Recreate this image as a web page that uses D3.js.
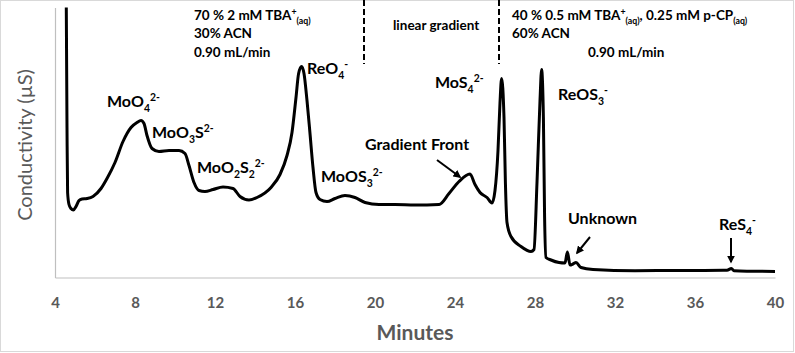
<!DOCTYPE html>
<html>
<head>
<meta charset="utf-8">
<script src="https://cdn.jsdelivr.net/npm/d3@7"></script>
<style>
  body { margin: 0; background: #fff; }
  text { font-family: Lato, "Open Sans", sans-serif; font-weight: bold; }
</style>
</head>
<body>
<div id="chart"></div>
<script>
// chromatogram trace
const minutes = [4.55, 4.60, 4.63, 4.70, 4.80, 4.92, 5.05, 5.20, 5.35, 5.60, 5.90, 6.30, 6.60, 7.00, 7.40, 7.80, 8.10, 8.30, 8.45, 8.60,
  8.85, 9.20, 9.70, 10.20, 10.50, 10.70, 10.95, 11.20, 11.50, 11.90, 12.40, 12.90, 13.25, 13.70, 14.10, 14.80, 15.25, 15.60, 15.85, 16.05,
  16.18, 16.33, 16.45, 16.60, 16.75, 16.90, 17.05, 17.25, 17.60, 18.00, 18.50, 19.00, 19.50, 20.20, 21.00, 22.00, 23.20, 23.70, 24.20, 24.75,
  25.00, 25.25, 25.60, 25.85, 26.00, 26.15, 26.25, 26.33, 26.45, 26.52, 26.60, 26.80, 27.30, 27.80, 27.95, 28.10, 28.25, 28.33, 28.42, 28.48,
  28.55, 28.80, 29.20, 29.50, 29.62, 29.75, 29.90, 30.05, 30.30, 30.90, 33.00, 35.00, 37.60, 37.82, 37.95, 40.00];
const conductivity = [32, 15, 8.5, 7.3, 6.9, 6.75, 7.1, 7.7, 7.85, 7.9, 8.1, 8.9, 9.9, 11.5, 13.6, 15.0, 15.5, 15.7, 15.4, 14.2,
  12.9, 12.6, 12.7, 12.7, 12.4, 11.2, 9.5, 8.7, 8.6, 8.8, 9.05, 8.9, 8.1, 7.75, 8.0, 9.0, 10.3, 12.2, 14.5, 18.0,
  20.4, 21.1, 20.4, 17.7, 14.4, 11.0, 8.5, 7.8, 7.6, 7.9, 8.2, 8.0, 7.5, 7.3, 7.3, 7.25, 7.3, 8.4, 9.6, 10.35,
  9.3, 8.5, 8.0, 7.45, 8.7, 12.7, 17.5, 19.9, 16.0, 9.5, 5.5, 4.1, 3.1, 2.6, 2.8, 9.5, 17.7, 20.8, 16.0, 6.0,
  2.0, 1.75, 1.5, 1.45, 2.55, 1.25, 1.35, 1.5, 1.0, 0.8, 0.68, 0.7, 0.72, 0.9, 0.68, 0.6];

const xTicks = [4, 8, 12, 16, 20, 24, 28, 32, 36, 40];
const peakNames = ["MoO_{4}^{2-}", "MoO_{3}S^{2-}", "MoO_{2}S_{2}^{2-}", "ReO_{4}^{-}", "MoOS_{3}^{2-}",
  "Gradient Front", "MoS_{4}^{2-}", "ReOS_{3}^{-}", "Unknown", "ReS_{4}^{-}"];
const leftConditions = ["70 % 2 mM TBA^{+}_{(aq)}", "30% ACN", "0.90 mL/min"];
const rightConditions = ["40 % 0.5 mM TBA^{+}_{(aq)}, 0.25 mM p-CP_{(aq)}", "60% ACN", "0.90 mL/min"];
const gradientLabel = "linear gradient";
const gradientBounds = [19.45, 26.2];

const W = 795, H = 353;
const margin = { top: 7.5, right: 20, bottom: 75.5, left: 55 };

const svg = d3.select("#chart").append("svg")
  .attr("width", W).attr("height", H);

// light frame round the picture
svg.append("rect")
  .attr("x", 0.5).attr("y", 0.5).attr("width", W - 2).attr("height", H - 2)
  .attr("fill", "none").attr("stroke", "#d9d9d9");

const x = d3.scaleLinear().domain([4, 40]).range([margin.left, W - margin.right]);
const y = d3.scaleLinear().domain([0, 27]).range([H - margin.bottom, margin.top]);

// axes: plain grey lines, no ticks
const xAxis = d3.axisBottom(x).tickValues(xTicks).tickSize(0).tickPadding(20).tickFormat(d3.format("d"));
const gx = svg.append("g").attr("transform", `translate(0,${y(0)})`).call(xAxis);
gx.select(".domain").attr("stroke", "#bfbfbf").attr("stroke-width", 1.2);
gx.selectAll("text").attr("fill", "#595959").style("font-size", "15px");

const gy = svg.append("g").attr("transform", `translate(${x(4)},0)`)
  .call(d3.axisLeft(y).tickValues([]).tickSize(0));
gy.select(".domain").attr("stroke", "#bfbfbf").attr("stroke-width", 1.2);

svg.append("text")
  .attr("x", x(22)).attr("y", 340)
  .attr("text-anchor", "middle").attr("fill", "#595959")
  .style("font-size", "21px").text("Minutes");

svg.append("text")
  .attr("transform", `translate(32,${y(13.25)}) rotate(-90)`)
  .attr("text-anchor", "middle").attr("fill", "#595959")
  .style("font-size", "20px").style("font-weight", "normal").text("Conductivity (µS)");

// trace
svg.append("clipPath").attr("id", "clip")
  .append("rect").attr("x", x(4)).attr("y", y(27))
  .attr("width", x(40) - x(4)).attr("height", y(0) - y(27));

const trace = minutes.map((t, i) => ({ t, c: conductivity[i] }));
const line = d3.line().x(d => x(d.t)).y(d => y(d.c)).curve(d3.curveMonotoneX);

svg.append("path")
  .datum(trace)
  .attr("clip-path", "url(#clip)")
  .attr("fill", "none").attr("stroke", "#000")
  .attr("stroke-width", 3).attr("stroke-linejoin", "round")
  .attr("d", line);

// dashed gradient boundaries
svg.selectAll(".bound").data(gradientBounds).enter().append("line")
  .attr("class", "bound")
  .attr("x1", d => x(d)).attr("x2", d => x(d))
  .attr("y1", 0).attr("y2", y(21.35))
  .attr("stroke", "#000").attr("stroke-width", 2).attr("stroke-dasharray", "6,3");

// text with _{sub} and ^{sup} parts
function rich(g, str, size) {
  const parts = str.match(/_\{[^}]*\}|\^\{[^}]*\}|[^_^]+/g);
  let shift = 0;
  parts.forEach(p => {
    let target = 0, txt = p, fs = size;
    if (p[0] === "_") { target = size * 0.3; txt = p.slice(2, -1); fs = size * 0.65; }
    else if (p[0] === "^") { target = -size * 0.4; txt = p.slice(2, -1); fs = size * 0.65; }
    g.append("tspan").attr("dy", target - shift).style("font-size", fs + "px").text(txt);
    shift = target;
  });
}

function label(str, t, c, size) {
  const el = svg.append("text").attr("x", x(t)).attr("y", y(c)).attr("fill", "#000")
    .style("font-size", size + "px");
  rich(el, str, size);
  return el;
}

const peakAt = [[6.6, 17.05], [8.85, 13.95], [11.1, 10.45], [16.6, 20.35], [17.3, 9.55],
  [19.5, 12.75], [23.0, 18.95], [29.15, 17.75], [29.65, 5.35], [37.2, 4.75]];
peakNames.forEach((s, i) => label(s, peakAt[i][0], peakAt[i][1], 16));

const condRows = [25.75, 23.95, 22.05];
leftConditions.forEach((s, i) => label(s, 10.95, condRows[i], 13.5));
rightConditions.forEach((s, i) => label(s, i === 2 ? 30.65 : 26.85, condRows[i], 13.5));
label(gradientLabel, 20.9, 24.75, 13.5);

// arrows
svg.append("defs").append("marker")
  .attr("id", "head").attr("viewBox", "0 0 10 10").attr("refX", 8).attr("refY", 5)
  .attr("markerWidth", 4).attr("markerHeight", 4).attr("orient", "auto")
  .append("path").attr("d", "M0,0L10,5L0,10z").attr("fill", "#000");

const arrows = [[23.1, 11.75, 24.25, 10.05], [30.75, 4.05, 30.1, 2.45], [37.8, 3.95, 37.8, 1.55]];
arrows.forEach(a => svg.append("line")
  .attr("x1", x(a[0])).attr("y1", y(a[1])).attr("x2", x(a[2])).attr("y2", y(a[3]))
  .attr("stroke", "#000").attr("stroke-width", 2).attr("marker-end", "url(#head)"));
</script>
</body>
</html>
